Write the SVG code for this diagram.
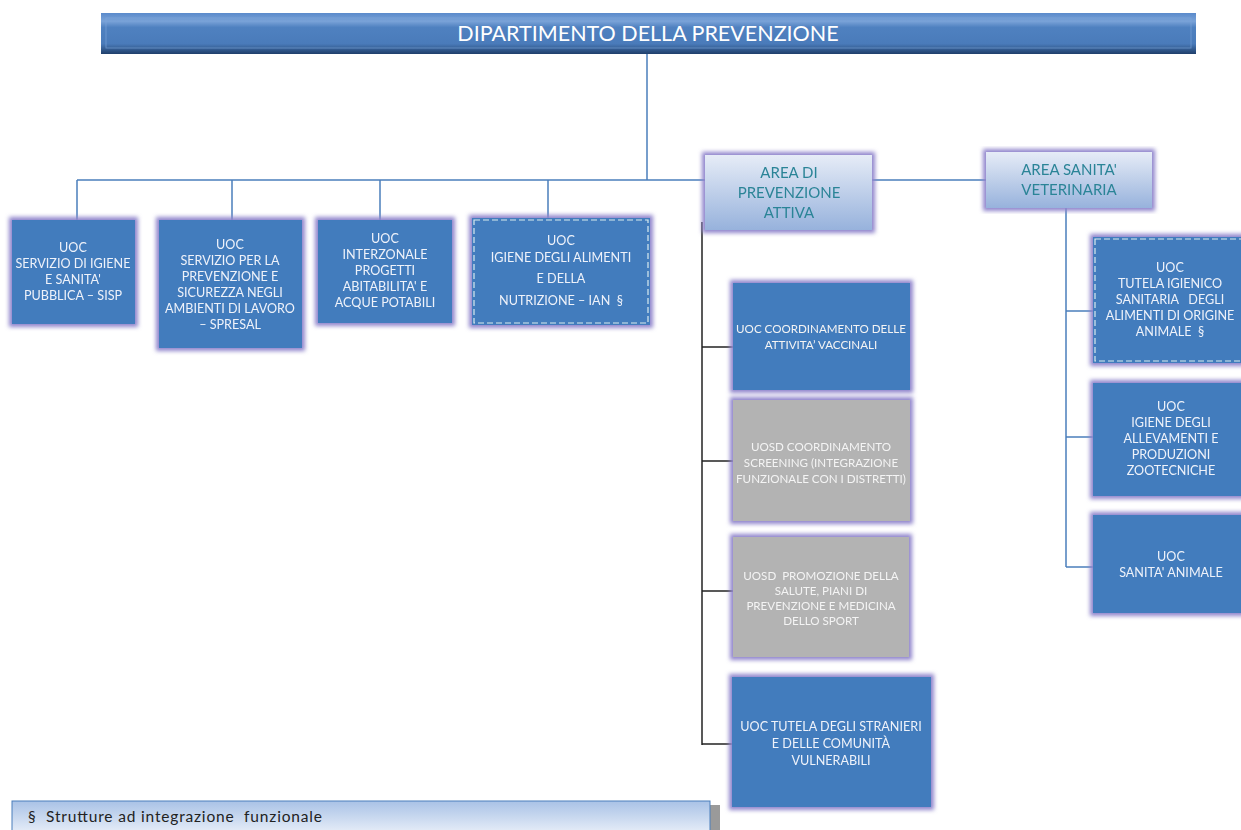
<svg xmlns="http://www.w3.org/2000/svg" width="1241" height="830" viewBox="0 0 1241 830">
<defs>
<linearGradient id="hdr" x1="0" y1="0" x2="0" y2="1">
<stop offset="0" stop-color="#5a8acb"/>
<stop offset="0.2" stop-color="#7aa3d8"/>
<stop offset="0.35" stop-color="#4f81c0"/>
<stop offset="0.75" stop-color="#4a7bba"/>
<stop offset="1" stop-color="#1f3f6b"/>
</linearGradient>
<linearGradient id="area" x1="0" y1="0" x2="0" y2="1">
<stop offset="0" stop-color="#e6ecf7"/>
<stop offset="1" stop-color="#97b2dc"/>
</linearGradient>
<linearGradient id="foot" x1="0" y1="0" x2="0" y2="1">
<stop offset="0" stop-color="#a9c2e6"/>
<stop offset="1" stop-color="#e3ebf7"/>
</linearGradient>
<filter id="glow" x="-10%" y="-10%" width="120%" height="120%">
<feMorphology in="SourceAlpha" operator="dilate" radius="3" result="d"/>
<feGaussianBlur in="d" stdDeviation="2" result="b"/>
<feFlood flood-color="#9085cc"/>
<feComposite in2="b" operator="in" result="g"/>
<feMerge><feMergeNode in="g"/><feMergeNode in="SourceGraphic"/></feMerge>
</filter>
<style>
.blue{fill:#437cbd;}
.gray{fill:#b3b3b3;}
.ar{fill:url(#area);}
.dash{fill:none;stroke:#d8ecee;stroke-width:1.2;stroke-dasharray:6 3;}
.t{font-family:Lato,"Open Sans","Liberation Sans",sans-serif;fill:#eef2fa;font-size:12.6px;text-anchor:middle;white-space:pre;}
.ts{font-family:Lato,"Open Sans","Liberation Sans",sans-serif;fill:#f4f4f4;font-size:11.6px;text-anchor:middle;white-space:pre;}
.ta{font-family:Lato,"Open Sans","Liberation Sans",sans-serif;fill:#2b8497;font-size:15px;text-anchor:middle;}
.cb{fill:none;stroke:#4a7ebb;stroke-width:1.5;}
.ck{fill:none;stroke:#222;stroke-width:1.5;}
</style>
</defs>
<rect width="1241" height="830" fill="#fff"/>

<g id="connectors">
<line class="cb" x1="647" y1="54" x2="647" y2="180"/>
<line class="cb" x1="77" y1="180" x2="706" y2="180"/>
<line class="cb" x1="77" y1="180" x2="77" y2="220"/>
<line class="cb" x1="232" y1="180" x2="232" y2="220"/>
<line class="cb" x1="380" y1="180" x2="380" y2="220"/>
<line class="cb" x1="548" y1="180" x2="548" y2="218"/>
<line class="cb" x1="872" y1="180" x2="986" y2="180"/>
<line class="cb" x1="1066" y1="207" x2="1066" y2="567"/>
<line class="cb" x1="1066" y1="311" x2="1093" y2="311"/>
<line class="cb" x1="1066" y1="437" x2="1093" y2="437"/>
<line class="cb" x1="1066" y1="567" x2="1093" y2="567"/>
<line class="ck" x1="702" y1="222" x2="702" y2="745"/>
<line class="ck" x1="702" y1="347" x2="733" y2="347"/>
<line class="ck" x1="702" y1="461" x2="733" y2="461"/>
<line class="ck" x1="702" y1="591" x2="733" y2="591"/>
<line class="ck" x1="702" y1="744" x2="732" y2="744"/>
</g>

<g id="header">
<rect x="101" y="13" width="1095" height="41" fill="url(#hdr)"/>
<rect x="106" y="18" width="1085" height="30" fill="none" stroke="#7fa7da" stroke-width="1" opacity="0.6"/>
<text x="648" y="41" font-family="Lato,'Open Sans','Liberation Sans',sans-serif" font-size="21.5" fill="#fff" text-anchor="middle">DIPARTIMENTO DELLA PREVENZIONE</text>
</g>

<g id="sisp" filter="url(#glow)">
<rect class="blue" x="12" y="220" width="123" height="104"/>
<text class="t" x="73" y="252">UOC</text>
<text class="t" x="73" y="268">SERVIZIO DI IGIENE</text>
<text class="t" x="73" y="284">E SANITA'</text>
<text class="t" x="73" y="300">PUBBLICA – SISP</text>
</g>

<g id="spresal" filter="url(#glow)">
<rect class="blue" x="159" y="220" width="143" height="128"/>
<text class="t" x="230" y="249">UOC</text>
<text class="t" x="230" y="265">SERVIZIO PER LA</text>
<text class="t" x="230" y="281">PREVENZIONE E</text>
<text class="t" x="230" y="297">SICUREZZA NEGLI</text>
<text class="t" x="230" y="313">AMBIENTI DI LAVORO</text>
<text class="t" x="230" y="329">– SPRESAL</text>
</g>

<g id="interzonale" filter="url(#glow)">
<rect class="blue" x="318" y="220" width="134" height="103"/>
<text class="t" x="385" y="243">UOC</text>
<text class="t" x="385" y="259">INTERZONALE</text>
<text class="t" x="385" y="275">PROGETTI</text>
<text class="t" x="385" y="291">ABITABILITA' E</text>
<text class="t" x="385" y="307">ACQUE POTABILI</text>
</g>

<g id="ian" filter="url(#glow)">
<rect class="blue" x="472" y="218" width="178" height="107"/>
<rect class="dash" x="474" y="220" width="174" height="103"/>
<text class="t" x="561" y="245">UOC</text>
<text class="t" x="561" y="262">IGIENE DEGLI ALIMENTI</text>
<text class="t" x="561" y="283">E DELLA</text>
<text class="t" x="561" y="305">NUTRIZIONE – IAN  §</text>
</g>

<g id="area-prevenzione" filter="url(#glow)">
<rect class="ar" x="705" y="155" width="167" height="75"/>
<text class="ta" x="789" y="178">AREA DI</text>
<text class="ta" x="789" y="198">PREVENZIONE</text>
<text class="ta" x="789" y="218">ATTIVA</text>
</g>

<g id="area-veterinaria" filter="url(#glow)">
<rect class="ar" x="986" y="152" width="166" height="56"/>
<text class="ta" x="1069" y="175">AREA SANITA'</text>
<text class="ta" x="1069" y="195">VETERINARIA</text>
</g>

<g id="tutela-alimenti" filter="url(#glow)">
<rect class="blue" x="1093" y="237" width="155" height="126"/>
<rect class="dash" x="1095" y="239" width="151" height="122"/>
<text class="t" x="1170" y="272">UOC</text>
<text class="t" x="1170" y="288">TUTELA IGIENICO</text>
<text class="t" x="1170" y="304">SANITARIA   DEGLI</text>
<text class="t" x="1170" y="320">ALIMENTI DI ORIGINE</text>
<text class="t" x="1170" y="336">ANIMALE  §</text>
</g>

<g id="allevamenti" filter="url(#glow)">
<rect class="blue" x="1093" y="383" width="155" height="113"/>
<text class="t" x="1171" y="411">UOC</text>
<text class="t" x="1171" y="427">IGIENE DEGLI</text>
<text class="t" x="1171" y="443">ALLEVAMENTI E</text>
<text class="t" x="1171" y="459">PRODUZIONI</text>
<text class="t" x="1171" y="475">ZOOTECNICHE</text>
</g>

<g id="sanita-animale" filter="url(#glow)">
<rect class="blue" x="1093" y="515" width="155" height="98"/>
<text class="t" x="1171" y="561">UOC</text>
<text class="t" x="1171" y="577">SANITA' ANIMALE</text>
</g>

<g id="vaccinali" filter="url(#glow)">
<rect class="blue" x="733" y="283" width="177" height="107"/>
<text class="ts" x="821" y="333">UOC COORDINAMENTO DELLE</text>
<text class="ts" x="821" y="349">ATTIVITA’ VACCINALI</text>
</g>

<g id="screening" filter="url(#glow)">
<rect class="gray" x="733" y="400" width="177" height="121"/>
<text class="ts" x="821" y="451">UOSD COORDINAMENTO</text>
<text class="ts" x="821" y="467">SCREENING (INTEGRAZIONE</text>
<text class="ts" x="821" y="483">FUNZIONALE CON I DISTRETTI)</text>
</g>

<g id="promozione" filter="url(#glow)">
<rect class="gray" x="733" y="537" width="176" height="120"/>
<text class="ts" x="821" y="580">UOSD  PROMOZIONE DELLA</text>
<text class="ts" x="821" y="595">SALUTE, PIANI DI</text>
<text class="ts" x="821" y="610">PREVENZIONE E MEDICINA</text>
<text class="ts" x="821" y="625">DELLO SPORT</text>
</g>

<g id="stranieri" filter="url(#glow)">
<rect class="blue" x="732" y="677" width="199" height="130"/>
<text class="t" x="831" y="731">UOC TUTELA DEGLI STRANIERI</text>
<text class="t" x="831" y="748">E DELLE COMUNITÀ</text>
<text class="t" x="831" y="765">VULNERABILI</text>
</g>

<g id="legenda">
<rect x="710" y="805" width="10" height="25" fill="#9a9a9a"/>
<rect x="12" y="801" width="698" height="30" fill="url(#foot)" stroke="#4a7ebb" stroke-width="1"/>
<text x="28" y="822" font-family="Lato,'Open Sans','Liberation Sans',sans-serif" font-size="15.5" fill="#222" textLength="294" lengthAdjust="spacing" style="white-space:pre">§  Strutture ad integrazione  funzionale</text>
</g>
</svg>
